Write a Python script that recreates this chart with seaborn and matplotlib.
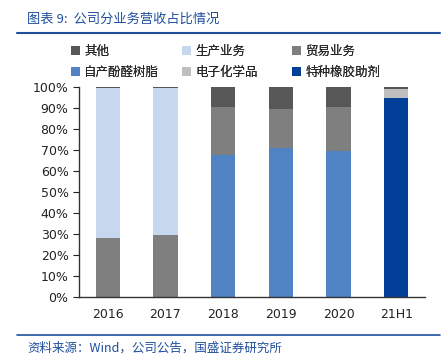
import matplotlib
matplotlib.use('Agg')
import matplotlib.pyplot as plt
import matplotlib.ticker as ticker
from matplotlib.patches import Patch
from matplotlib.lines import Line2D
import seaborn as sns
import numpy as np

# chart data (percent of revenue)
categories = ['2016', '2017', '2018', '2019', '2020', '21H1']
self_resin = [0, 0, 67.8, 70.8, 69.7, 0]
rubber_aux = [0, 0, 0, 0, 0, 94.8]
trade = [28.2, 29.3, 22.8, 18.7, 20.9, 0]
electronic = [0, 0, 0, 0, 0, 4.2]
production = [71.5, 70.4, 0, 0, 0, 0]
other = [0.3, 0.3, 9.4, 10.5, 9.4, 1.0]

sns.set_style('white')
plt.rcParams['font.family'] = ['Noto Sans CJK SC', 'DejaVu Sans']

fig = plt.figure(figsize=(4.44, 3.57), dpi=100)
ax = fig.add_axes([79 / 444, 1 - 297 / 357, 346 / 444, 210 / 357])

# stacking order bottom -> top
stack = [
    ('自产酚醛树脂', self_resin, '#4F83C4'),
    ('特种橡胶助剂', rubber_aux, '#023F98'),
    ('贸易业务', trade, '#7F7F7F'),
    ('电子化学品', electronic, '#BFBFBF'),
    ('生产业务', production, '#C6D7EE'),
    ('其他', other, '#575757'),
]

bottom = np.zeros(len(categories))
for name, vals, col in stack:
    vals = np.array(vals, dtype=float)
    sns.barplot(ax=ax, x=categories, y=vals, bottom=bottom, color=col,
                width=0.42, saturation=1, edgecolor='none')
    bottom += vals

ax.set_xlim(-0.5, 5.5)
ax.set_ylim(0, 100)
ax.yaxis.set_major_locator(ticker.MultipleLocator(10))
ax.yaxis.set_major_formatter(ticker.FuncFormatter(lambda v, p: f'{v:.0f}%'))
ax.set_xticks(range(len(categories)))
ax.set_xticklabels(categories)
ax.set_xticks(np.arange(0.5, 5.5, 1), minor=True)
ax.tick_params(axis='x', which='major', length=0, pad=8, labelsize=9, colors='#222222')
ax.tick_params(axis='x', which='minor', direction='in', length=3, color='#555555')
ax.tick_params(axis='y', direction='out', length=4, left=True, labelsize=9, colors='#222222')
for lbl in ax.get_xticklabels() + ax.get_yticklabels():
    lbl.set_family('DejaVu Sans')
for s in ['top', 'right']:
    ax.spines[s].set_visible(False)
for s in ['left', 'bottom']:
    ax.spines[s].set_color('#333333')
    ax.spines[s].set_linewidth(1)
ax.set_xlabel('')
ax.set_ylabel('')

# legend: three columns, laid out like the reference
colors = {n: c for n, _, c in stack}
legend_cols = [['其他', '自产酚醛树脂'], ['生产业务', '电子化学品'], ['贸易业务', '特种橡胶助剂']]
col_x = [71, 182, 292]
for names, x in zip(legend_cols, col_x):
    handles = [Patch(facecolor=colors[n], edgecolor='none', label=n) for n in names]
    leg = fig.legend(handles=handles, loc='upper left', bbox_to_anchor=(x / 444, 1 - 45 / 357),
                     ncol=1, frameon=False, fontsize=9, handlelength=0.7, handleheight=0.7,
                     handletextpad=0.35, labelspacing=0.6, borderaxespad=0, borderpad=0)
    fig.add_artist(leg)

# title, footer and rules
fig.text(27 / 444, 1 - 19 / 357, '图表 9:  公司分业务营收占比情况', fontsize=9.5,
         color='#1F4E9C', va='center', style='italic')
fig.add_artist(Line2D([17 / 444, 440 / 444], [1 - 33 / 357] * 2, color='#1F4E9C', lw=1.5))
fig.add_artist(Line2D([17 / 444, 440 / 444], [1 - 335 / 357] * 2, color='#1F4E9C', lw=1.2))
fig.text(27 / 444, 1 - 348 / 357, '资料来源：Wind，公司公告，国盛证券研究所', fontsize=9,
         color='#1F4E9C', va='center', style='italic')

fig.savefig('out.png', dpi=100)
